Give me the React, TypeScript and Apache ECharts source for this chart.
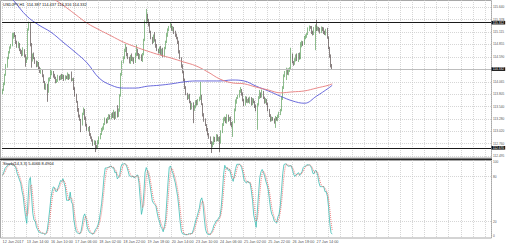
import React, { useEffect, useRef } from "react";
import * as echarts from "echarts";

const FONT = "'Liberation Sans', Arial, sans-serif";

const titleText = "USDJPY,H1  114.387 114.437 114.316 114.332";
const stochTitle = "Stoch(14,3,3) 5.4066 8.4904";

// H1 candles: open of the first bar, then closes; each later bar opens at the previous close
const firstOpen = 113.83;
const closes = [
  113.89, 114.02, 114.21, 114.40, 114.56, 114.69, 114.78, 114.84, 114.99, 115.07,
  115.03, 114.90, 114.80, 114.86, 114.73, 114.69, 114.63, 114.73, 114.61, 114.48,
  114.56, 115.16, 115.28, 114.84, 114.52, 114.63, 114.56, 114.48, 114.40, 114.46,
  114.35, 114.27, 114.31, 114.19, 114.06, 113.93, 113.99, 113.85, 114.10, 114.14,
  114.23, 114.27, 114.19, 114.14, 114.06, 114.10, 114.16, 114.12, 114.19, 114.14,
  114.19, 114.12, 114.16, 114.14, 114.21, 114.14, 114.19, 114.10, 114.12, 113.93,
  113.78, 113.64, 113.47, 113.34, 113.26, 113.17, 113.38, 113.47, 113.30, 113.15,
  113.05, 113.09, 112.96, 112.88, 112.83, 112.75, 112.79, 112.71, 112.67, 112.79,
  112.88, 112.96, 113.05, 113.09, 113.17, 113.26, 113.21, 113.30, 113.34, 113.30,
  113.38, 113.32, 113.40, 113.30, 113.42, 113.34, 113.47, 113.78, 114.21, 114.48,
  114.56, 114.73, 114.78, 114.63, 114.56, 114.48, 114.61, 114.52, 114.56, 114.48,
  114.63, 114.73, 114.65, 114.56, 114.61, 114.52, 114.65, 114.94, 115.32, 115.47,
  115.37, 115.26, 115.11, 114.99, 114.90, 115.03, 114.94, 114.82, 114.73, 114.69,
  114.78, 114.65, 114.73, 114.61, 114.78, 114.90, 115.05, 115.16, 115.22, 115.26,
  115.16, 115.20, 115.11, 115.03, 114.99, 114.90, 114.69, 114.56, 114.40, 114.27,
  114.10, 113.93, 113.81, 113.72, 113.76, 113.64, 113.51, 113.59, 113.47, 113.55,
  113.64, 113.59, 113.68, 113.72, 113.76, 113.59, 113.36, 113.26, 113.15, 113.05,
  112.96, 112.88, 112.79, 112.71, 112.75, 112.88, 112.83, 112.92, 112.83, 112.88,
  112.79, 113.00, 113.17, 113.26, 113.30, 113.21, 113.34, 113.26, 113.30, 113.17,
  113.13, 113.21, 113.47, 113.64, 113.72, 113.76, 113.85, 113.89, 113.81, 113.68,
  113.59, 113.72, 113.64, 113.68, 113.64, 113.72, 113.59, 113.68, 113.64, 113.55,
  113.47, 113.59, 113.72, 113.81, 113.76, 113.85, 113.72, 113.64, 113.68, 113.59,
  113.47, 113.34, 113.26, 113.30, 113.26, 113.21, 113.30, 113.26, 113.34, 113.38,
  113.47, 113.72, 113.93, 114.19, 114.27, 114.31, 114.23, 114.31, 114.35, 114.63,
  114.48, 114.44, 114.52, 114.61, 114.52, 114.65, 114.56, 114.82, 114.90, 114.86,
  114.99, 115.03, 115.07, 115.16, 115.22, 115.20, 115.11, 115.07, 115.20, 115.24,
  115.16, 115.20, 115.16, 115.11, 115.20, 115.16, 115.11, 115.07, 115.16, 114.99,
  114.78, 114.61, 114.387, 114.332,
];
// wick lengths above / below the body, in hundredths of a yen
const upperWick = [
  2, 3, 2, 4, 3, 2, 3, 2, 10, 3,
  4, 2, 3, 5, 2, 3, 4, 6, 2, 3,
  2, 3, 5, 2, 4, 3, 5, 2, 3, 4,
  2, 3, 4, 2, 3, 2, 4, 3, 5, 2,
  10, 3, 2, 4, 3, 2, 5, 3, 2, 4,
  3, 2, 4, 3, 5, 2, 3, 9, 2, 3,
  2, 3, 2, 4, 3, 2, 3, 5, 2, 3,
  3, 2, 4, 2, 3, 2, 4, 3, 2, 4,
  3, 2, 4, 3, 2, 5, 3, 2, 4, 3,
  2, 4, 7, 3, 2, 15, 3, 2, 4, 3,
  4, 3, 8, 2, 4, 3, 2, 5, 3, 2,
  4, 11, 3, 2, 4, 3, 2, 3, 4, 13,
  3, 2, 4, 3, 2, 3, 8, 2, 4, 3,
  2, 4, 3, 5, 2, 3, 4, 3, 2, 6,
  3, 4, 2, 3, 5, 2, 3, 4, 2, 3,
  2, 3, 4, 2, 3, 5, 2, 3, 4, 2,
  3, 4, 2, 3, 30, 3, 2, 4, 3, 2,
  4, 2, 3, 2, 5, 3, 2, 4, 3, 2,
  3, 4, 2, 5, 3, 2, 4, 3, 2, 3,
  4, 2, 3, 5, 2, 3, 4, 6, 2, 3,
  2, 4, 3, 2, 5, 3, 2, 4, 3, 2,
  3, 2, 4, 8, 3, 5, 2, 3, 4, 2,
  3, 2, 4, 3, 2, 3, 4, 2, 3, 5,
  2, 3, 4, 3, 2, 5, 3, 4, 2, 15,
  3, 2, 4, 3, 5, 2, 3, 8, 3, 2,
  4, 3, 2, 5, 3, 2, 4, 3, 2, 3,
  13, 3, 2, 4, 3, 2, 5, 3, 2, 4,
  3, 2, 3, 5,
];
const lowerWick = [
  3, 2, 3, 2, 4, 2, 3, 2, 3, 2,
  3, 4, 2, 3, 2, 4, 3, 2, 3, 10,
  2, 3, 2, 3, 16, 3, 2, 4, 3, 2,
  3, 2, 4, 3, 2, 3, 4, 21, 2, 3,
  2, 3, 4, 2, 3, 2, 4, 3, 2, 3,
  2, 4, 3, 2, 3, 4, 2, 3, 2, 4,
  3, 2, 4, 3, 2, 17, 3, 2, 4, 3,
  2, 3, 4, 2, 3, 4, 2, 13, 3, 2,
  4, 3, 2, 3, 4, 2, 3, 2, 4, 3,
  3, 2, 3, 4, 2, 3, 2, 4, 3, 2,
  3, 2, 4, 3, 2, 3, 4, 2, 3, 4,
  2, 3, 4, 2, 3, 2, 4, 3, 2, 3,
  4, 3, 2, 3, 4, 2, 3, 4, 2, 3,
  3, 2, 4, 3, 2, 3, 2, 4, 3, 2,
  2, 3, 4, 2, 3, 4, 3, 2, 4, 3,
  3, 2, 3, 4, 2, 3, 4, 3, 28, 2,
  4, 3, 2, 3, 4, 2, 3, 4, 2, 3,
  3, 2, 4, 15, 3, 2, 4, 3, 2, 3,
  21, 3, 2, 4, 3, 2, 3, 4, 2, 3,
  3, 23, 2, 3, 4, 2, 3, 2, 4, 3,
  4, 3, 2, 3, 2, 4, 3, 2, 3, 4,
  3, 42, 3, 2, 4, 3, 2, 4, 3, 2,
  3, 2, 4, 3, 2, 3, 12, 2, 3, 4,
  2, 3, 4, 2, 3, 17, 2, 3, 4, 2,
  3, 4, 2, 3, 2, 4, 3, 2, 3, 4,
  2, 3, 4, 2, 3, 2, 4, 3, 2, 47,
  3, 2, 4, 3, 2, 3, 4, 2, 3, 2,
  3, 4, 2, 1.6,
];

// moving averages at [bar index, price]
const blueMA = [
  [0, 116.05], [10, 115.75], [20, 115.45], [30, 115.26], [40, 115.11], [50, 114.9],
  [60, 114.69], [70, 114.46], [80, 114.14], [90, 113.99], [100, 113.93], [110, 113.93],
  [120, 113.97], [130, 113.99], [140, 114.02], [150, 114.06], [160, 114.08], [170, 114.08],
  [180, 114.08], [190, 114.1], [200, 114.08], [210, 113.97], [220, 113.87], [230, 113.76],
  [240, 113.66], [250, 113.61], [260, 113.76], [270, 113.93], [273, 113.99],
];
const redMA = [
  [0, 116.59], [10, 116.4], [20, 116.21], [30, 116.04], [40, 115.85], [50, 115.68],
  [60, 115.49], [70, 115.3], [80, 115.16], [90, 115.03], [100, 114.9], [110, 114.8],
  [120, 114.71], [130, 114.63], [140, 114.56], [150, 114.48], [160, 114.4], [170, 114.27],
  [180, 114.12], [190, 114.04], [200, 114.02], [210, 113.95], [220, 113.89], [230, 113.83],
  [240, 113.85], [250, 113.87], [260, 113.93], [270, 113.99], [273, 114.02],
];

const xLabels = [
  "12 Jan 2017", "13 Jan 14:00", "16 Jan 10:00", "17 Jan 06:00", "18 Jan 02:00",
  "18 Jan 22:00", "19 Jan 18:00", "20 Jan 14:00", "23 Jan 10:00", "24 Jan 06:00",
  "25 Jan 02:00", "25 Jan 22:00", "26 Jan 18:00", "27 Jan 14:00",
];
const BARS_PER_LABEL = 20;
const BARS_PER_GRID = 10;
const priceTicks = [
  115.64, 115.378, 115.115, 114.855, 114.59, 114.33, 114.065, 113.805, 113.54,
  113.28, 113.02, 112.76, 112.495,
];
const resistanceLevel = 115.312;
const supportLevel = 112.67;
const bidLevel = 114.332;
const stochLevels = [80, 20];
const stochEdges = [100, 0];

const SLOTS = 405; // bar slots across the window (right part of the chart is empty)
const PRICE_MIN = 112.455;
const PRICE_MAX = 115.788;
const STOCH_MIN = -2.5;
const STOCH_MAX = 102.5;

function buildCandles() {
  return closes.map((c, i) => {
    const o = i === 0 ? firstOpen : closes[i - 1];
    const hi = Math.max(o, c) + upperWick[i] / 100;
    const lo = Math.min(o, c) - lowerWick[i] / 100;
    return [o, c, lo, hi];
  });
}

function stochastic(candles: number[][], kPeriod: number, slowing: number, dPeriod: number) {
  const n = candles.length;
  const ll: number[] = [];
  const hh: number[] = [];
  for (let i = 0; i < n; i++) {
    let lo = Infinity;
    let hi = -Infinity;
    for (let j = Math.max(0, i - kPeriod + 1); j <= i; j++) {
      lo = Math.min(lo, candles[j][2]);
      hi = Math.max(hi, candles[j][3]);
    }
    ll.push(lo);
    hh.push(hi);
  }
  const main: number[] = [];
  for (let i = 0; i < n; i++) {
    let num = 0;
    let den = 0;
    for (let j = Math.max(0, i - slowing + 1); j <= i; j++) {
      num += candles[j][1] - ll[j];
      den += hh[j] - ll[j];
    }
    main.push(den > 0 ? (100 * num) / den : 50);
  }
  const signal = main.map((_, i) => {
    const s = Math.max(0, i - dPeriod + 1);
    let sum = 0;
    for (let j = s; j <= i; j++) sum += main[j];
    return sum / (i - s + 1);
  });
  return { main, signal };
}

export default function App() {
  const ref = useRef<HTMLDivElement>(null);
  useEffect(() => {
    if (!ref.current) return;
    const chart = echarts.init(ref.current, undefined, { renderer: "svg" });
    const candles = buildCandles();
    const { main, signal } = stochastic(candles, 14, 3, 3);
    const cats = Array.from({ length: SLOTS }, (_, i) => String(i));
    const gridLineStyle = { color: "#c4c4c4", type: [1, 1] as any, width: 0.7 };
    const priceLabel = {
      show: true,
      position: "end",
      distance: 2,
      color: "#555",
      fontSize: 3.2,
      fontFamily: FONT,
    };
    const boxLabel = {
      show: true,
      position: "end",
      distance: 0.5,
      color: "#fff",
      backgroundColor: "#111",
      padding: [0.4, 1.2, 0.2, 1.2],
      fontSize: 3.2,
      fontFamily: FONT,
    };
    const xCommon = {
      type: "category",
      data: cats,
      boundaryGap: true,
      axisLine: { show: false },
      axisTick: { show: false },
      axisLabel: { show: false },
      splitLine: {
        show: true,
        interval: (i: number) => i % BARS_PER_GRID === 0,
        lineStyle: gridLineStyle,
      },
    };
    const option: any = {
      animation: false,
      backgroundColor: "#ffffff",
      grid: [
        { left: 2, top: 0, width: 489, height: 158, show: false },
        { left: 2, top: 160, width: 489, height: 78, show: false },
      ],
      xAxis: [
        { ...xCommon, gridIndex: 0 },
        { ...xCommon, gridIndex: 1 },
      ],
      yAxis: [
        { type: "value", gridIndex: 0, min: PRICE_MIN, max: PRICE_MAX, show: false, splitLine: { show: false } },
        { type: "value", gridIndex: 1, min: STOCH_MIN, max: STOCH_MAX, show: false, splitLine: { show: false } },
      ],
      graphic: [
        { type: "rect", z: 0, silent: true, shape: { x: 0.5, y: 0.5, width: 491, height: 157.5 }, style: { fill: "none", stroke: "#a8a8a8", lineWidth: 1 } },
        { type: "rect", z: 0, silent: true, shape: { x: 0.5, y: 160.5, width: 491, height: 77.5 }, style: { fill: "none", stroke: "#a8a8a8", lineWidth: 1 } },
        { type: "line", z: 50, silent: true, shape: { x1: 0, y1: 159.2, x2: 492, y2: 159.2 }, style: { stroke: "#2a2a2a", lineWidth: 1.5 } },
        { type: "text", z: 50, x: 3, y: 2, style: { text: titleText, fontSize: 4, fontFamily: FONT, fill: "#111" } },
        { type: "text", z: 50, x: 3, y: 161.6, style: { text: stochTitle, fontSize: 4, fontFamily: FONT, fill: "#111" } },
      ],
      series: [
        {
          type: "line",
          name: "MA fast",
          xAxisIndex: 0,
          yAxisIndex: 0,
          data: blueMA,
          smooth: 0.4,
          symbol: "none",
          lineStyle: { color: "#5a5ad8", width: 0.9 },
          z: 4,
          markLine: {
            z: 1,
            silent: true,
            symbol: "none",
            lineStyle: gridLineStyle,
            label: priceLabel,
            data: priceTicks.map((v) => ({ yAxis: v, label: { formatter: v.toFixed(3) } })),
          },
        },
        {
          type: "line",
          name: "MA slow",
          xAxisIndex: 0,
          yAxisIndex: 0,
          data: redMA,
          smooth: 0.4,
          symbol: "none",
          lineStyle: { color: "#e67c7c", width: 0.9 },
          z: 4,
          markLine: {
            z: 10,
            silent: true,
            symbol: "none",
            label: boxLabel,
            data: [
              { yAxis: resistanceLevel, lineStyle: { color: "#1a1a1a", width: 1, type: "solid" }, label: { formatter: resistanceLevel.toFixed(3) } },
              { yAxis: supportLevel, lineStyle: { color: "#1a1a1a", width: 1, type: "solid" }, label: { formatter: supportLevel.toFixed(3) } },
              { yAxis: bidLevel, lineStyle: { color: "#bdbdbd", width: 1, type: "solid" }, label: { formatter: bidLevel.toFixed(3) } },
            ],
          },
        },
        {
          type: "candlestick",
          xAxisIndex: 0,
          yAxisIndex: 0,
          data: candles,
          barWidth: 1,
          z: 3,
          itemStyle: {
            color: "#2e8a2e",
            color0: "#2e2424",
            borderColor: "#3f8f3f",
            borderColor0: "#3a2e2e",
            borderWidth: 0.6,
          },
        },
        {
          type: "line",
          name: "Stoch main",
          xAxisIndex: 1,
          yAxisIndex: 1,
          data: main,
          symbol: "none",
          lineStyle: { color: "#3cbcb4", width: 0.8 },
          z: 4,
          markLine: {
            z: 1,
            silent: true,
            symbol: "none",
            label: { ...priceLabel },
            data: [
              ...stochLevels.map((v) => ({ yAxis: v, lineStyle: gridLineStyle, label: { formatter: String(v) } })),
              ...stochEdges.map((v) => ({ yAxis: v, lineStyle: { color: "rgba(0,0,0,0)", width: 0.5, type: "solid" }, label: { formatter: String(v) } })),
            ],
          },
        },
        {
          type: "line",
          name: "Stoch signal",
          xAxisIndex: 1,
          yAxisIndex: 1,
          data: signal,
          symbol: "none",
          lineStyle: { color: "#e84a4a", width: 0.7, type: [1, 1] },
          z: 5,
        },
        {
          type: "scatter",
          name: "time labels",
          xAxisIndex: 1,
          yAxisIndex: 1,
          clip: false,
          silent: true,
          symbolSize: 0,
          data: xLabels.map((_, k) => [k * BARS_PER_LABEL, STOCH_MIN]),
          label: {
            show: true,
            position: "bottom",
            distance: 1.6,
            align: "left",
            formatter: (p: any) => xLabels[p.dataIndex],
            fontSize: 3.8,
            color: "#222",
            fontFamily: FONT,
          },
          z: 6,
        },
      ],
    };
    chart.setOption(option);
    return () => chart.dispose();
  }, []);
  return (
    <div
      ref={ref}
      style={{ position: "fixed", left: 0, top: 0, width: 510, height: 246, background: "#fff" }}
    />
  );
}
